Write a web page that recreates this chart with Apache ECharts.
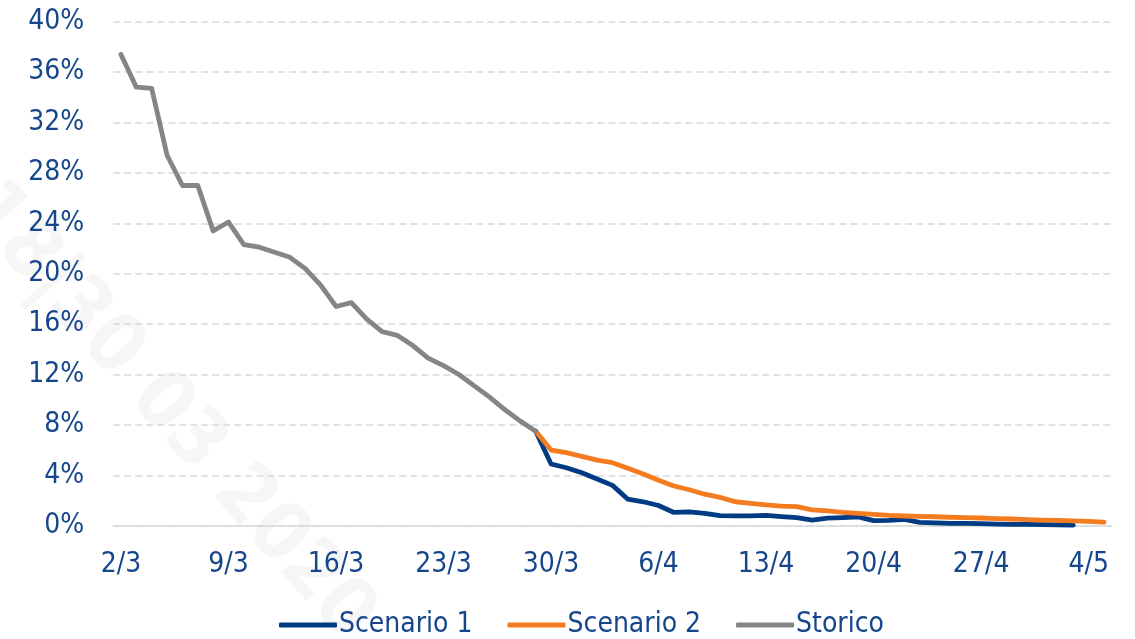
<!DOCTYPE html>
<html>
<head>
<meta charset="utf-8">
<script src="https://cdn.jsdelivr.net/npm/echarts@6/dist/echarts.min.js"></script>
<style>
  html, body { margin: 0; padding: 0; background: #ffffff; }
  #chart { width: 1135px; height: 639px; }
</style>
</head>
<body>
<div id="chart"></div>
<script>
// Giorni dal 2/3 al 5/5
const categories = [
  '2/3','3/3','4/3','5/3','6/3','7/3','8/3','9/3','10/3','11/3','12/3','13/3','14/3','15/3',
  '16/3','17/3','18/3','19/3','20/3','21/3','22/3','23/3','24/3','25/3','26/3','27/3','28/3','29/3',
  '30/3','31/3','1/4','2/4','3/4','4/4','5/4','6/4','7/4','8/4','9/4','10/4','11/4','12/4',
  '13/4','14/4','15/4','16/4','17/4','18/4','19/4','20/4','21/4','22/4','23/4','24/4','25/4','26/4',
  '27/4','28/4','29/4','30/4','1/5','2/5','3/5','4/5','5/5'
];

// Serie storica (2/3 - 29/3), valori in %
const storico = [
  37.4, 34.8, 34.7, 29.4, 27.0, 27.0, 23.4, 24.1, 22.3, 22.1,
  21.7, 21.3, 20.4, 19.1, 17.4, 17.7, 16.4, 15.4, 15.1, 14.3,
  13.3, 12.7, 12.0, 11.1, 10.2, 9.2, 8.3, 7.5
];

// Scenario 1 (29/3 - 3/5)
const scenario1 = [
  7.5, 4.9, 4.6, 4.2, 3.7, 3.2, 2.1, 1.9, 1.6, 1.05,
  1.1, 0.98, 0.8, 0.78, 0.78, 0.82, 0.72, 0.64, 0.45, 0.6,
  0.64, 0.7, 0.4, 0.43, 0.5, 0.27, 0.22, 0.19, 0.18, 0.16,
  0.13, 0.11, 0.1, 0.08, 0.07, 0.05
];

// Scenario 2 (29/3 - 5/5)
const scenario2 = [
  7.5, 6.0, 5.8, 5.5, 5.2, 5.0, 4.55, 4.1, 3.6, 3.15,
  2.85, 2.5, 2.25, 1.9, 1.78, 1.65, 1.56, 1.52, 1.25, 1.17,
  1.06, 0.98, 0.9, 0.82, 0.77, 0.74, 0.71, 0.67, 0.64, 0.61,
  0.56, 0.53, 0.48, 0.45, 0.42, 0.39, 0.35, 0.29
];

const seriesNames = ['Scenario 1', 'Scenario 2', 'Storico'];
const seriesColors = ['#003b83', '#f47c20', '#858585'];
const startScenario = storico.length - 1;

function pad(values, start) {
  const out = new Array(start).fill(null).concat(values);
  while (out.length < categories.length) out.push(null);
  return out;
}

const textColor = '#15468b';
const font = '"DejaVu Sans Condensed", "DejaVu Sans", sans-serif';

const chart = echarts.init(document.getElementById('chart'), null, { renderer: 'canvas' });

const lineSeries = [
  pad(scenario1, startScenario),
  pad(scenario2, startScenario),
  pad(storico, 0)
].map((data, k) => ({
  name: seriesNames[k],
  type: 'line',
  data: data,
  symbol: 'none',
  connectNulls: false,
  lineStyle: { color: seriesColors[k], width: 4.8, cap: 'round', join: 'round' },
  itemStyle: { color: seriesColors[k] },
  z: 3 + k,
  animation: false
}));

chart.setOption({
  animation: false,
  backgroundColor: '#ffffff',
  textStyle: { fontFamily: font },
  grid: { left: 113.3, right: 23.3, top: 21.7, bottom: 113.3, containLabel: false },
  graphic: [{
    type: 'text',
    x: -22, y: 196,
    rotation: -0.85,
    z: 0,
    silent: true,
    style: {
      text: '18|30 03 2020',
      fontSize: 80,
      fontWeight: 'bold',
      fontFamily: font,
      fill: 'rgba(0,0,0,0.035)',
      textVerticalAlign: 'middle'
    }
  }],
  legend: {
    data: seriesNames.map((n, k) => ({ name: n, icon: 'roundRect', itemStyle: { color: seriesColors[k] } })),
    left: 274,
    top: 606,
    itemWidth: 58,
    itemHeight: 5,
    itemGap: 35,
    textStyle: { color: textColor, fontSize: 28, fontFamily: font, padding: [0, 0, 0, -3] }
  },
  xAxis: {
    type: 'category',
    data: categories,
    boundaryGap: true,
    axisLine: { lineStyle: { color: '#d9d9d9', width: 1.5 } },
    axisTick: { interval: 6, length: 8, lineStyle: { color: '#d9d9d9', width: 1.5 } },
    axisLabel: { interval: 6, color: textColor, fontSize: 28, fontFamily: font, margin: 25 },
    splitLine: { show: false }
  },
  yAxis: {
    type: 'value',
    min: 0,
    max: 40,
    interval: 4,
    axisLine: { show: false },
    axisTick: { show: false },
    axisLabel: { formatter: '{value}%', color: textColor, fontSize: 28, fontFamily: font, margin: 29 },
    splitLine: { lineStyle: { color: '#d9d9d9', width: 1.5, type: [7, 4] } }
  },
  series: lineSeries
});
</script>
</body>
</html>
